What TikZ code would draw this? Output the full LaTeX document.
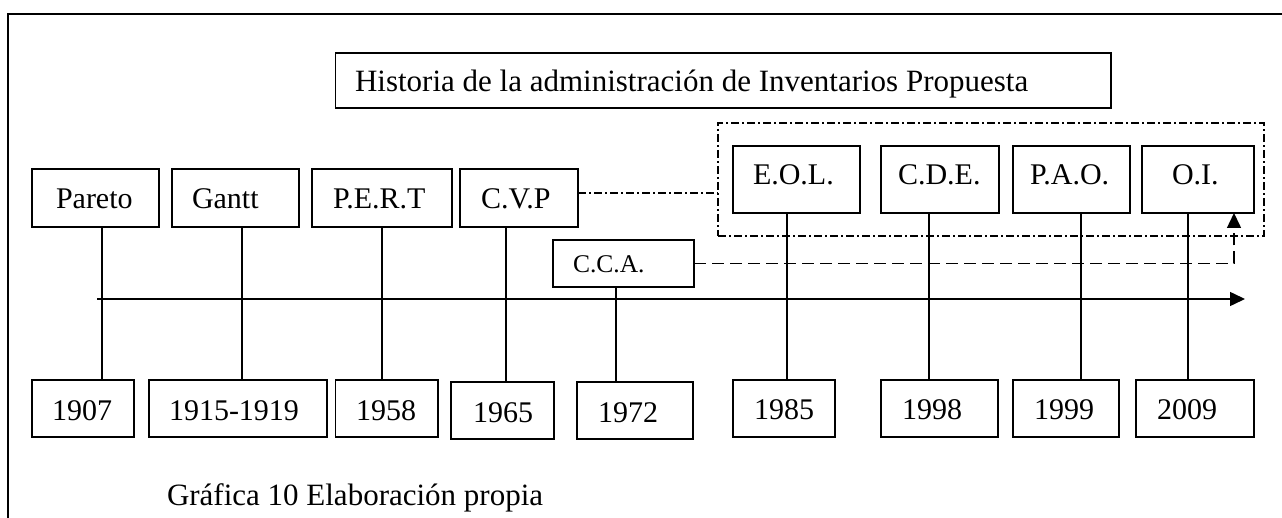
\documentclass[tikz,border=0pt]{standalone}
\usepackage{fontspec}
\setmainfont{Liberation Serif}
\usetikzlibrary{arrows.meta}
\newcommand{\tlbox}[8]{%
  \node[boxst, minimum width={#4-#2}, minimum height={#5-#3}] (#1) at ({(#2+#4)/2},{(#3+#5)/2}) {};
  \node[txt, anchor=base west] (#1-t) at (#6,#7) {#8};}
\begin{document}
\begin{tikzpicture}[x=1pt,y=-1pt,
  boxst/.style={draw, line width=1.5pt, inner sep=0pt, outer sep=0pt},
  txt/.style={inner sep=0pt, outer sep=0pt, font=\fontsize{30}{36}\selectfont},
  conn/.style={line width=1.5pt},
  dashdotst/.style={line width=1.5pt, dash pattern=on 8pt off 3pt on 2pt off 3pt},
  dashst/.style={line width=1.5pt, dash pattern=on 12pt off 6pt},
  tip/.style={-{Triangle[length=15pt,width=14pt]}}
]
\fill[white] (0,0) rectangle (1282,518);
\useasboundingbox (0,0) rectangle (1282,518);

% frame
\draw[line width=2pt] (8,518) -- (8,14) -- (1282,14);

% title
\node[boxst, minimum width={1111-335.5}, minimum height={108-53}] (title) at ({(335.5+1111)/2},{(53+108)/2}) {};
\node[txt, anchor=base west, font=\fontsize{31}{37}\selectfont] (title-t) at (355,92) {Historia de la administración de Inventarios Propuesta};

% dash-dot group
\node[draw, dashdotst, inner sep=0pt, outer sep=0pt, minimum width={1264-718}, minimum height={236-123}] (grp) at ({(718+1264)/2},{(123+236)/2}) {};

% top boxes
\tlbox{pareto}{32}{169}{159}{227}{56}{208.3}{Pareto}
\tlbox{gantt}{172}{169}{299}{227}{192}{208.3}{Gantt}
\tlbox{pert}{312}{169}{452}{227}{333}{208.3}{P.E.R.T}
\tlbox{cvp}{460}{169}{578}{227}{481}{208.3}{C.V.P}
\tlbox{eol}{733}{146}{860}{213}{753}{185}{E.O.L.}
\tlbox{cde}{881}{146}{999}{213}{898}{185}{C.D.E.}
\tlbox{pao}{1013}{146}{1130}{213}{1030}{185}{P.A.O.}
\tlbox{oi}{1142}{146}{1254}{213}{1172}{185}{O.I.}

% C.C.A.
\node[boxst, minimum width={694-553}, minimum height={287-240}] (cca) at ({(553+694)/2},{(240+287)/2}) {};
\node[txt, anchor=base west, font=\fontsize{25.5}{30}\selectfont] (cca-t) at (573,273) {C.C.A.};

% year boxes
\tlbox{y1907}{32}{380}{134}{437}{52}{420}{1907}
\tlbox{y1915}{149}{380}{327}{437}{169}{420}{1915-1919}
\tlbox{y1958}{335.5}{380}{438}{437}{356}{420}{1958}
\tlbox{y1965}{451}{382}{554}{439}{473}{422}{1965}
\tlbox{y1972}{577}{382}{693}{439}{598}{422}{1972}
\tlbox{y1985}{733}{380}{835}{437}{754}{419}{1985}
\tlbox{y1998}{881}{380}{998}{437}{902}{419}{1998}
\tlbox{y1999}{1013}{380}{1119}{437}{1034}{419}{1999}
\tlbox{y2009}{1136}{380}{1254}{437}{1157}{419}{2009}

% vertical connectors
\coordinate (xa) at (102,0);
\coordinate (xb) at (242,0);
\coordinate (xc) at (382,0);
\coordinate (xd) at (506,0);
\coordinate (xe) at (616,0);
\coordinate (xf) at (787,0);
\coordinate (xg) at (929,0);
\coordinate (xh) at (1081,0);
\coordinate (xi) at (1188,0);
\draw[conn] (pareto.south -| xa) -- (y1907.north -| xa);
\draw[conn] (gantt.south -| xb) -- (y1915.north -| xb);
\draw[conn] (pert.south -| xc) -- (y1958.north -| xc);
\draw[conn] (cvp.south -| xd) -- (y1965.north -| xd);
\draw[conn] (cca.south -| xe) -- (y1972.north -| xe);
\draw[conn] (eol.south -| xf) -- (y1985.north -| xf);
\draw[conn] (cde.south -| xg) -- (y1998.north -| xg);
\draw[conn] (pao.south -| xh) -- (y1999.north -| xh);
\draw[conn] (oi.south -| xi) -- (y2009.north -| xi);

% time axis
\coordinate (axs) at (97,299);
\coordinate (axe) at (1245,299);
\draw[conn, tip] (axs) -- (axe);
\draw[line width=2.2pt] (axs) -- (159,299);

% dash-dot link C.V.P -> group
\coordinate (cvpo) at ([yshift=5pt]cvp.east);
\draw[dashdotst] (cvpo) -- (cvpo -| grp.west);

% dashed link C.C.A. -> O.I.
\coordinate (xarr) at (1234,0);
\draw[dashst, tip] (cca.east) -| (oi.south -| xarr);

% caption
\node[txt, anchor=base west, font=\fontsize{31}{37}\selectfont] (caption) at (167,505) {Gráfica 10 Elaboración propia};
\end{tikzpicture}
\end{document}
